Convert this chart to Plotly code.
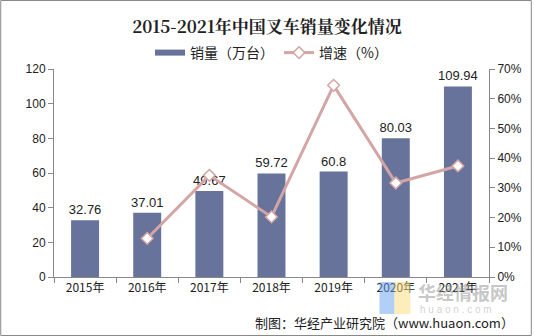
import plotly.graph_objects as go

years = ["2015年", "2016年", "2017年", "2018年", "2019年", "2020年", "2021年"]
sales = [32.76, 37.01, 49.67, 59.72, 60.8, 80.03, 109.94]
growth_years = ["2016年", "2017年", "2018年", "2019年", "2020年", "2021年"]
growth = [12.98, 34.21, 20.23, 64.5, 31.63, 37.37]

W, H = 534, 336
ml, mr, mt, mb = 54, 43, 69, 59
pw, ph = W - ml - mr, H - mt - mb

def px(x):
    return (x - ml) / pw

def py(y):
    return (H - mb - y) / ph

font_num = "Liberation Sans, Arial, sans-serif"
font_cjk = "Noto Sans CJK SC, Liberation Sans, sans-serif"
bar_color = "#67739A"
line_color = "#D3A5A4"

fig = go.Figure()
fig.add_trace(go.Bar(
    x=years, y=sales, name="销量（万台）", showlegend=False,
    marker=dict(color=bar_color, line=dict(width=0)),
    width=0.45,
    text=[f"{v:g}" for v in sales], textposition="outside",
    textfont=dict(family=font_num, size=13, color="#222"),
    constraintext="none",
    cliponaxis=False,
))
# legend proxy for bars (wide flat swatch like the reference)
fig.add_trace(go.Scatter(
    x=[None], y=[None], name="销量（万台）", mode="lines",
    line=dict(color=bar_color, width=6),
))
fig.add_trace(go.Scatter(
    x=growth_years, y=growth, name="增速（%）", yaxis="y2",
    mode="lines+markers",
    line=dict(color=line_color, width=3),
    marker=dict(symbol="diamond", size=9, color="white",
                line=dict(color=line_color, width=1.5)),
    cliponaxis=False,
))

fig.update_layout(
    width=W, height=H,
    margin=dict(l=ml, r=mr, t=mt, b=mb),
    paper_bgcolor="white", plot_bgcolor="white",
    title=dict(text="<b>2015-2021年中国叉车销量变化情况</b>",
               x=0.5, xanchor="center", y=1 - 27 / H, yanchor="middle",
               font=dict(family="Noto Serif CJK SC, Noto Sans CJK SC, serif", size=17, color="#222")),
    legend=dict(orientation="h", x=0.5, xanchor="center", y=py(53), yanchor="middle",
                font=dict(family=font_cjk, size=14, color="#222"),
                itemwidth=30, traceorder="normal", bgcolor="rgba(0,0,0,0)"),
    showlegend=True,
    bargap=0.55,
    xaxis=dict(type="category", categoryorder="array", categoryarray=years,
               showline=True, linecolor="#888", linewidth=1,
               ticks="outside", tickson="boundaries", ticklen=5, tickcolor="#888",
               tickfont=dict(family=font_cjk, size=12, color="#222"),
               showgrid=False, zeroline=False),
    yaxis=dict(range=[0, 120], dtick=20, showline=True, linecolor="#888", linewidth=1,
               ticks="outside", ticklen=5, tickcolor="#888",
               tickfont=dict(family=font_num, size=12, color="#222"),
               showgrid=False, zeroline=False),
    yaxis2=dict(range=[0, 70], dtick=10, overlaying="y", side="right",
                showline=True, linecolor="#888", linewidth=1,
                ticks="outside", ticklen=5, tickcolor="#888", ticksuffix="%",
                tickfont=dict(family=font_num, size=12, color="#222"),
                showgrid=False, zeroline=False),
)

# outer frame
fig.add_shape(type="rect", xref="paper", yref="paper",
              x0=px(0.5), x1=px(W - 0.5), y0=py(H - 0.5), y1=py(0.5),
              line=dict(color="#888", width=1), layer="below")

# watermark logo
fig.add_shape(type="rect", xref="paper", yref="paper",
              x0=px(381), x1=px(396), y0=py(314), y1=py(282),
              fillcolor="rgba(100,160,240,0.5)", line=dict(width=0), layer="above")
fig.add_shape(type="rect", xref="paper", yref="paper",
              x0=px(396), x1=px(412), y0=py(314), y1=py(282),
              fillcolor="rgba(250,220,120,0.5)", line=dict(width=0), layer="above")
fig.add_annotation(text="<b>华经情报网</b>", xref="paper", yref="paper",
                   x=px(419), xanchor="left", y=py(292), yanchor="middle", showarrow=False,
                   borderpad=0,
                   font=dict(family=font_cjk, size=18, color="rgba(150,150,150,0.55)"))
fig.add_annotation(text="h u a o n . c o m", xref="paper", yref="paper",
                   x=px(421), xanchor="left", y=py(309), yanchor="middle", showarrow=False,
                   borderpad=0,
                   font=dict(family=font_num, size=10, color="rgba(170,170,170,0.55)"))

fig.add_annotation(text="制图：华经产业研究院（www.huaon.com）", xref="paper", yref="paper",
                   x=px(255), xanchor="left", y=py(322), yanchor="middle", showarrow=False,
                   borderpad=0,
                   font=dict(family=font_cjk, size=13, color="#222"))

fig.write_html("out.html")
